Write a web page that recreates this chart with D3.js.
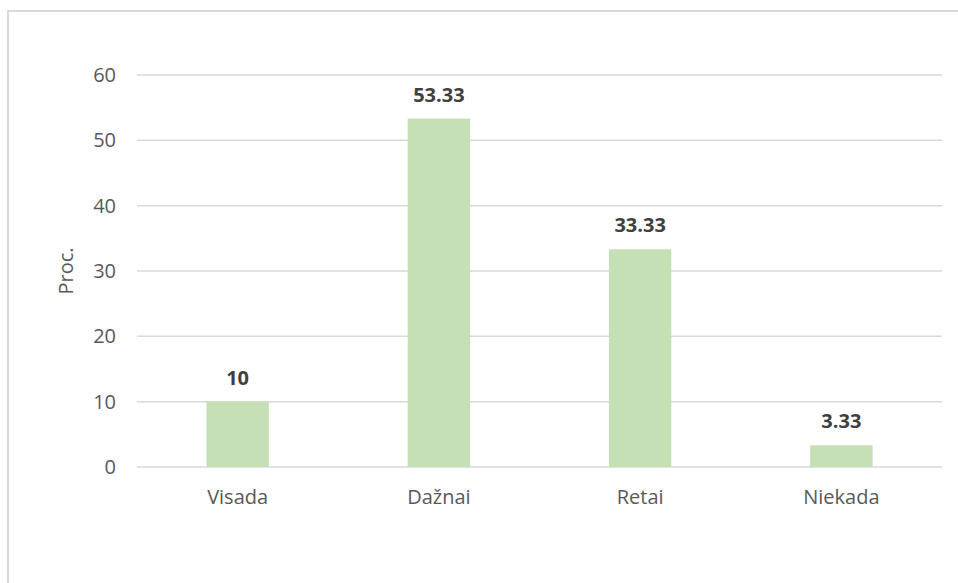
<!DOCTYPE html>
<html>
<head>
<meta charset="utf-8">
<script src="https://cdn.jsdelivr.net/npm/d3@7/dist/d3.min.js"></script>
<style>
  html, body { margin: 0; padding: 0; background: #ffffff; }
  svg { display: block; }
</style>
</head>
<body>
<script>
// Response categories and their shares (percent)
const categories = ["Visada", "Dažnai", "Retai", "Niekada"];
const values = [10, 53.33, 33.33, 3.33];
const valueLabels = ["10", "53.33", "33.33", "3.33"];
const yTicks = [0, 10, 20, 30, 40, 50, 60];
const yTitle = "Proc.";

const W = 958, H = 583;
const margin = { left: 137, right: 16, top: 75, bottom: 116 };
const fontFamily = "'Open Sans', Lato, 'Liberation Sans', sans-serif";
const labelSize = 20;

const svg = d3.select("body").append("svg")
  .attr("width", W).attr("height", H);

// Chart frame (left and top edges visible)
svg.append("line").attr("x1", 8).attr("x2", 8).attr("y1", 10).attr("y2", H)
  .attr("stroke", "#d9d9d9").attr("stroke-width", 2);
svg.append("line").attr("x1", 8).attr("x2", W).attr("y1", 11).attr("y2", 11)
  .attr("stroke", "#d9d9d9").attr("stroke-width", 2);

const x = d3.scaleBand()
  .domain(categories)
  .range([margin.left, W - margin.right])
  .padding(0);

const y = d3.scaleLinear()
  .domain([0, 60])
  .range([H - margin.bottom, margin.top]);

// Horizontal gridlines
svg.append("g")
  .selectAll("line")
  .data(yTicks)
  .join("line")
  .attr("x1", margin.left)
  .attr("x2", W - margin.right)
  .attr("y1", d => y(d))
  .attr("y2", d => y(d))
  .attr("stroke", "#d9d9d9")
  .attr("stroke-width", 1.5);

// Y axis tick labels
const yAxis = d3.axisLeft(y).tickValues(yTicks).tickSize(0).tickPadding(0);
const yg = svg.append("g")
  .attr("transform", `translate(${margin.left - 21},0)`)
  .call(yAxis);
yg.select(".domain").remove();
yg.selectAll("text")
  .attr("fill", "#595959")
  .attr("font-family", fontFamily)
  .attr("font-size", labelSize);

// X axis category labels
const xAxis = d3.axisBottom(x).tickSize(0).tickPadding(0);
const xg = svg.append("g")
  .attr("transform", `translate(0,${H - margin.bottom + 23})`)
  .call(xAxis);
xg.select(".domain").remove();
xg.selectAll("text")
  .attr("fill", "#595959")
  .attr("font-family", fontFamily)
  .attr("font-size", labelSize);

// Bars
const barW = x.bandwidth() * 0.31;
svg.append("g")
  .selectAll("rect")
  .data(values)
  .join("rect")
  .attr("x", (d, i) => x(categories[i]) + x.bandwidth() / 2 - barW / 2)
  .attr("y", d => y(d))
  .attr("width", barW)
  .attr("height", d => y(0) - y(d))
  .attr("fill", "#c5e0b4");

// Value labels above bars
svg.append("g")
  .selectAll("text")
  .data(values)
  .join("text")
  .attr("x", (d, i) => x(categories[i]) + x.bandwidth() / 2)
  .attr("y", d => y(d) - 17)
  .attr("text-anchor", "middle")
  .attr("fill", "#404040")
  .attr("font-family", fontFamily)
  .attr("font-weight", "bold")
  .attr("font-size", 20)
  .text((d, i) => valueLabels[i]);

// Y axis title
svg.append("text")
  .attr("transform", `translate(73,${(y(0) + y(60)) / 2}) rotate(-90)`)
  .attr("text-anchor", "middle")
  .attr("fill", "#595959")
  .attr("font-family", fontFamily)
  .attr("font-size", 20)
  .text(yTitle);
</script>
</body>
</html>
